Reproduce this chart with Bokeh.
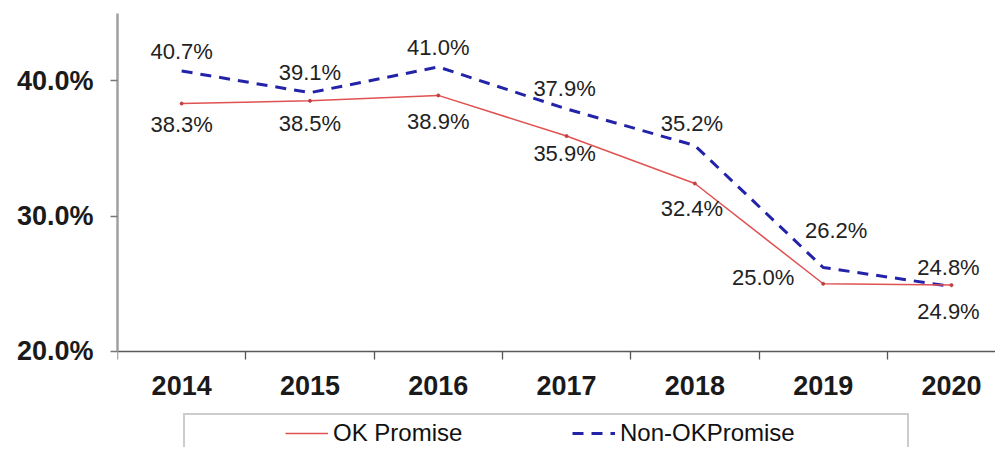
from bokeh.plotting import figure
from bokeh.models import (ColumnDataSource, Range1d, FixedTicker, Legend, LegendItem)
from bokeh.core.properties import value
from bokeh.embed import file_html
from bokeh.resources import INLINE

# ---- data ----
years = [2014, 2015, 2016, 2017, 2018, 2019, 2020]
year_labels = ["2014", "2015", "2016", "2017", "2018", "2019", "2020"]
ok_promise = [38.3, 38.5, 38.9, 35.9, 32.4, 25.0, 24.9]
non_ok_promise = [40.7, 39.1, 41.0, 37.9, 35.2, 26.2, 24.8]
series_names = ["OK Promise", "Non-OKPromise"]
y_ticks = [20, 30, 40]
y_tick_labels = ["20.0%", "30.0%", "40.0%"]

# ---- label placement (screen px offsets, styling only) ----
non_dx = [0, 0, 0, -2, -3, 13, -3]
non_dy = [-20, -20, -19, -20, -22, -37, -19]
ok_dx = [0, 0, 0, -2, -3, -60, -3]
ok_dy = [21, 23, 26, 17, 25, -6, 26]

FONT = "Liberation Sans"
RED = "#e05252"
BLUE = "#2323aa"

Y_BASE = 20
Y_TOP = 44.945
Y_LOW = 12.915

p = figure(width=995, height=447,
           x_range=Range1d(2013.5, 2020.343), y_range=Range1d(Y_LOW, Y_TOP),
           output_backend="svg", toolbar_location=None,
           min_border_left=117, min_border_right=0,
           min_border_top=13, min_border_bottom=0)
p.outline_line_color = None
p.grid.visible = False
p.background_fill_color = "white"
p.border_fill_color = "white"

# lines
r_non = p.line(years, non_ok_promise, line_color=BLUE, line_width=3,
               line_dash="11 8")
r_ok = p.line(years, ok_promise, line_color=RED, line_width=1.5)
r_ok_pts = p.scatter(years, ok_promise, size=3, color="#c04040")
dummy = p.line(years, ok_promise, line_alpha=0)

# data labels
lab_src = ColumnDataSource(dict(
    x=years + years,
    y=non_ok_promise + ok_promise,
    t=[f"{v:.1f}%" for v in non_ok_promise] + [f"{v:.1f}%" for v in ok_promise],
    dx=non_dx + ok_dx,
    dy=non_dy + ok_dy,
))
p.text(x="x", y="y", text="t", source=lab_src, x_offset="dx", y_offset="dy",
       text_align="center", text_baseline="middle",
       text_font=value(FONT), text_font_size=value("22px"),
       text_color="#222222")

# x axis, pinned at the 20% line
bounds = [y - 0.5 for y in years] + [years[-1] + 0.5]
p.xaxis.fixed_location = Y_BASE
p.xaxis.ticker = FixedTicker(ticks=years, minor_ticks=bounds)
p.xaxis.major_label_overrides = {y: l for y, l in zip(years, year_labels)}
p.xaxis.major_tick_out = 0
p.xaxis.major_tick_in = 0
p.xaxis.minor_tick_out = 8
p.xaxis.minor_tick_in = 0
p.xaxis.minor_tick_line_color = "#555555"
p.xaxis.minor_tick_line_width = 1.3
p.xaxis.axis_line_color = "#5a5a5a"
p.xaxis.axis_line_width = 1.5
p.xaxis.major_label_standoff = 17
p.xaxis.major_label_text_font = FONT
p.xaxis.major_label_text_font_style = "bold"
p.xaxis.major_label_text_font_size = "27px"
p.xaxis.major_label_text_color = "#1a1a1a"

# y axis
p.yaxis.bounds = (Y_BASE, Y_TOP)
p.yaxis.ticker = FixedTicker(ticks=y_ticks)
p.yaxis.major_label_overrides = {t: l for t, l in zip(y_ticks, y_tick_labels)}
p.yaxis.minor_tick_out = 0
p.yaxis.minor_tick_in = 0
p.yaxis.major_tick_out = 7
p.yaxis.major_tick_in = 0
p.yaxis.major_tick_line_color = "#777777"
p.yaxis.major_tick_line_width = 1.5
p.yaxis.axis_line_color = "#a0a0a0"
p.yaxis.axis_line_width = 2.5
p.yaxis.major_label_standoff = 17
p.yaxis.major_label_text_font = FONT
p.yaxis.major_label_text_font_style = "bold"
p.yaxis.major_label_text_font_size = "27px"
p.yaxis.major_label_text_color = "#1a1a1a"

# legend box (frame only, runs off the bottom edge)
box_legend = Legend(items=[LegendItem(label=" ", renderers=[dummy])],
                    location=(66, -30), orientation="horizontal",
                    padding=20, margin=0, glyph_width=20, glyph_height=20,
                    label_width=657, label_height=20, label_standoff=5,
                    border_line_color="#9a9a9a", border_line_width=2,
                    background_fill_color="white", background_fill_alpha=1,
                    label_text_font_size="10px")
p.add_layout(box_legend, "center")

items_legend = Legend(items=[LegendItem(label=series_names[0], renderers=[r_ok]),
                             LegendItem(label=series_names[1], renderers=[r_non])],
                      location=(168, 0), orientation="horizontal",
                      padding=0, margin=0, spacing=0,
                      glyph_width=43, glyph_height=28,
                      label_width=239, label_height=28, label_standoff=5,
                      border_line_alpha=0, background_fill_alpha=0,
                      label_text_font=FONT, label_text_font_size="24px",
                      label_text_color="#111111")
p.add_layout(items_legend, "center")

open("out.html", "w").write(file_html(p, INLINE))
